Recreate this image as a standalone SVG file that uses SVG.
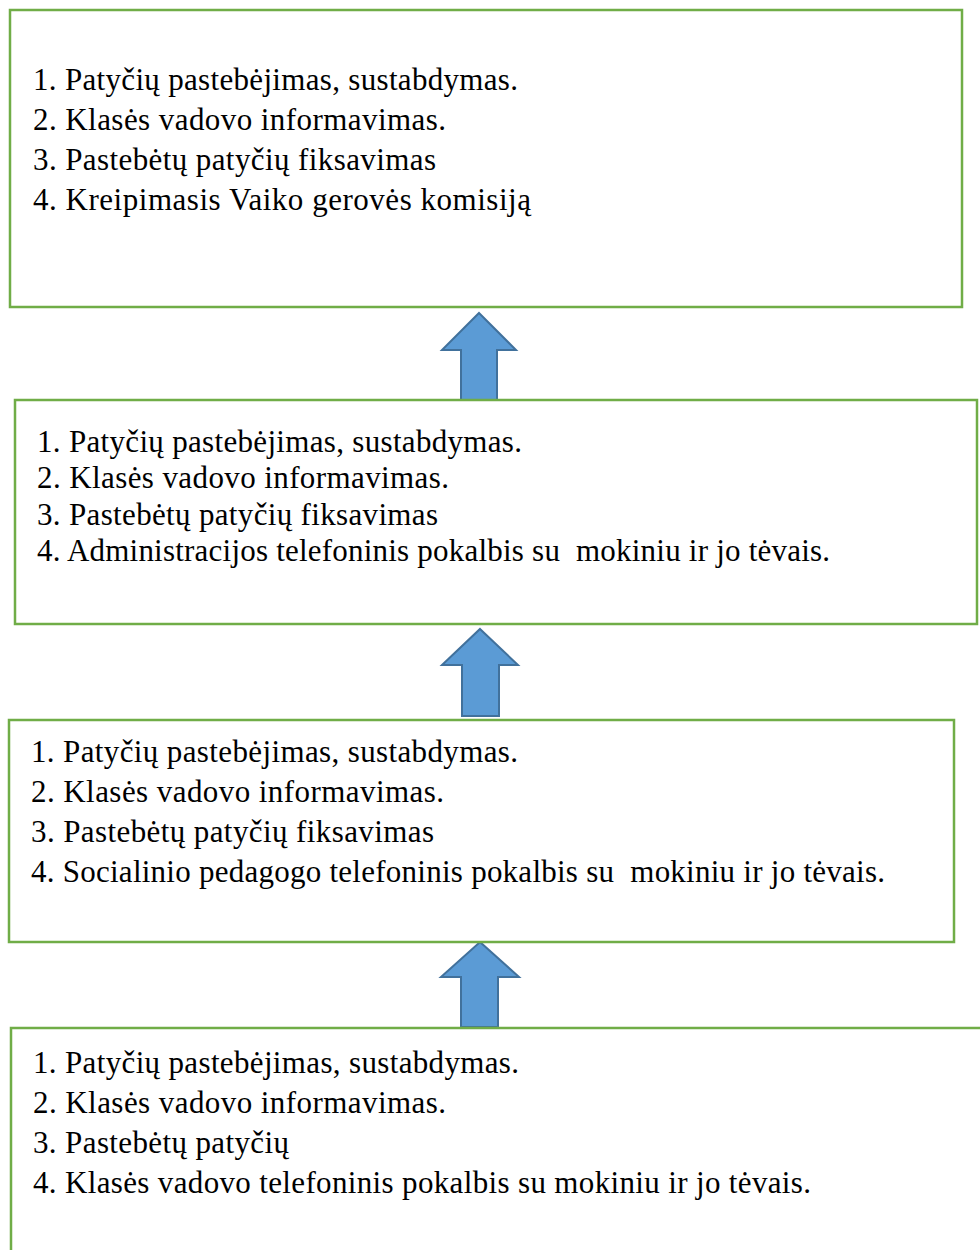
<svg xmlns="http://www.w3.org/2000/svg" width="980" height="1250" viewBox="0 0 980 1250">
<style>
.box{fill:#FFFFFF;stroke:#70AD47;stroke-width:2.5}
.arrow{fill:#5B9BD5;stroke:#41719C;stroke-width:2;stroke-linejoin:miter}
text{font-family:"Liberation Serif","Times New Roman",serif;font-size:31px;fill:#000;white-space:pre}
</style>
<rect width="980" height="1250" fill="#FFFFFF"/>
<g id="connectors">
<path class="arrow" d="M479,313 L516,350 L497,350 L497,400 L461,400 L461,350 L442,350 Z"/>
<path class="arrow" d="M480,629 L518,665 L499,665 L499,716 L462,716 L462,665 L442,665 Z"/>
<path class="arrow" d="M480,942 L519,977 L498,977 L498,1027 L461,1027 L461,977 L441,977 Z"/>
</g>
<g id="node1">
<rect class="box" x="10" y="10" width="952" height="297"/>
<text x="33" y="90" textLength="485" lengthAdjust="spacing">1. Patyčių pastebėjimas, sustabdymas.</text>
<text x="33" y="130" textLength="413" lengthAdjust="spacing">2. Klasės vadovo informavimas.</text>
<text x="33" y="170" textLength="403" lengthAdjust="spacing">3. Pastebėtų patyčių fiksavimas</text>
<text x="33" y="210" textLength="498" lengthAdjust="spacing">4. Kreipimasis Vaiko gerovės komisiją</text>
</g>
<g id="node2">
<rect class="box" x="15" y="400" width="962" height="224"/>
<text x="37" y="452" textLength="485" lengthAdjust="spacing">1. Patyčių pastebėjimas, sustabdymas.</text>
<text x="37" y="488" textLength="412" lengthAdjust="spacing">2. Klasės vadovo informavimas.</text>
<text x="37" y="525" textLength="401" lengthAdjust="spacing">3. Pastebėtų patyčių fiksavimas</text>
<text x="37" y="561" textLength="793" lengthAdjust="spacing">4. Administracijos telefoninis pokalbis su  mokiniu ir jo tėvais.</text>
</g>
<g id="node3">
<rect class="box" x="9" y="720" width="945" height="222"/>
<text x="31" y="762" textLength="487" lengthAdjust="spacing">1. Patyčių pastebėjimas, sustabdymas.</text>
<text x="31" y="802" textLength="413" lengthAdjust="spacing">2. Klasės vadovo informavimas.</text>
<text x="31" y="842" textLength="403" lengthAdjust="spacing">3. Pastebėtų patyčių fiksavimas</text>
<text x="31" y="882" textLength="854" lengthAdjust="spacing">4. Socialinio pedagogo telefoninis pokalbis su  mokiniu ir jo tėvais.</text>
</g>
<g id="node4">
<rect class="box" x="11" y="1028" width="980" height="240"/>
<text x="33" y="1073" textLength="486" lengthAdjust="spacing">1. Patyčių pastebėjimas, sustabdymas.</text>
<text x="33" y="1113" textLength="413" lengthAdjust="spacing">2. Klasės vadovo informavimas.</text>
<text x="33" y="1153" textLength="256" lengthAdjust="spacing">3. Pastebėtų patyčių</text>
<text x="33" y="1193" textLength="778" lengthAdjust="spacing">4. Klasės vadovo telefoninis pokalbis su mokiniu ir jo tėvais.</text>
</g>
</svg>
